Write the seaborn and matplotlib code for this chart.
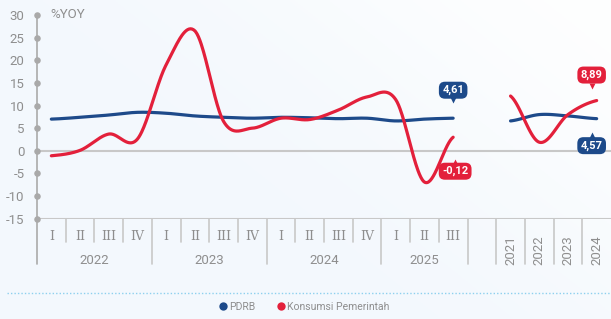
import numpy as np
import pandas as pd
import matplotlib
matplotlib.use("Agg")
import matplotlib.pyplot as plt
import seaborn as sns
from matplotlib.lines import Line2D
from matplotlib import transforms

# ---------------- data ----------------
quarter_labels = ["I", "II", "III", "IV", "I", "II", "III", "IV",
                  "I", "II", "III", "IV", "I", "II", "III"]
quarter_years = ["2022", "2023", "2024", "2025"]
annual_labels = ["2021", "2022", "2023", "2024"]

pdrb_q = [7.0, 7.4, 7.9, 8.5, 8.3, 7.7, 7.4, 7.2, 7.4, 7.3, 7.1, 7.2, 6.6, 7.0, 7.2]
kons_q = [-1.1, 0.1, 3.7, 2.6, 19.0, 26.5, 6.5, 5.0, 7.2, 6.9, 9.0, 11.9, 11.3, -6.9, 3.0]
pdrb_a = [6.6, 8.0, 7.7, 7.1]
kons_a = [12.1, 1.9, 8.0, 11.1]

label_pdrb_last = "4,61"
label_kons_last = "-0,12"
label_pdrb_year = "4,57"
label_kons_year = "8,89"

series_names = ["PDRB", "Konsumsi Pemerintah"]
BLUE = "#1d4a8a"
RED = "#e3203b"
GREY = "#8e8e8e"
LINEGREY = "#c8c8c8"

# ---------------- style ----------------
sns.set_theme(style="white")
plt.rcParams["font.family"] = ["Roboto", "DejaVu Sans"]
plt.rcParams["axes.unicode_minus"] = False

W, H = 611, 319
fig = plt.figure(figsize=(W / 100, H / 100), dpi=100)

# background gradient (light blue -> white towards top right)
bg = fig.add_axes([0, 0, 1, 1], zorder=-10)
gx, gy = np.meshgrid(np.linspace(0, W, 300), np.linspace(0, H, 160))
d = (gx - 1.25 * (H - gy) - 330) / 120.0
t = 1 / (1 + np.exp(-d))
c0 = np.array(matplotlib.colors.to_rgb("#f3f8fd"))
c1 = np.array(matplotlib.colors.to_rgb("#ffffff"))
img = c0[None, None, :] * (1 - t[..., None]) + c1[None, None, :] * t[..., None]
bg.imshow(img, extent=[0, 1, 0, 1], aspect="auto", origin="lower")
bg.axis("off")

top_px, bot_px, left_px = 15.0, 218.7, 37.0
ax = fig.add_axes([left_px / W, 1 - bot_px / H, (W - left_px) / W, (bot_px - top_px) / H])
ax.patch.set_alpha(0)

n_q = len(quarter_labels)
x_q = np.arange(n_q)
x_a = np.arange(len(annual_labels)) + n_q + 1
n_total = n_q + 1 + len(annual_labels)


def catmull(xs, ys, n=40):
    xs = np.asarray(xs, float)
    ys = np.asarray(ys, float)
    m = np.empty_like(ys)
    m[1:-1] = (ys[2:] - ys[:-2]) / 2
    m[0] = (ys[1] - ys[0]) / 2
    m[-1] = (ys[-1] - ys[-2]) / 2
    X, Y = [], []
    for i in range(len(xs) - 1):
        tt = np.linspace(0, 1, n, endpoint=(i == len(xs) - 2))
        h00 = 2 * tt**3 - 3 * tt**2 + 1
        h10 = tt**3 - 2 * tt**2 + tt
        h01 = -2 * tt**3 + 3 * tt**2
        h11 = tt**3 - tt**2
        X.append(xs[i] + tt * (xs[i + 1] - xs[i]))
        Y.append(h00 * ys[i] + h10 * m[i] + h01 * ys[i + 1] + h11 * m[i + 1])
    return np.concatenate(X), np.concatenate(Y)


for xs, ys, col in [(x_q, pdrb_q, BLUE), (x_a, pdrb_a, BLUE),
                    (x_q, kons_q, RED), (x_a, kons_a, RED)]:
    sx, sy = catmull(xs, ys)
    df = pd.DataFrame({"x": sx, "y": sy})
    sns.lineplot(data=df, x="x", y="y", ax=ax, color=col, lw=2.3,
                 sort=False, estimator=None, zorder=5)

ax.set_xlim(-0.5, n_total - 0.5)
ax.set_ylim(-15, 30)
yt = list(range(-15, 31, 5))
ax.set_yticks(yt)
ax.set_yticklabels([str(v) for v in yt])
ax.tick_params(axis="y", length=0, pad=9, labelcolor=GREY, labelsize=9.5)
ax.set_xticks([])
ax.set_xlabel("")
ax.set_ylabel("")
for s in ax.spines.values():
    s.set_visible(False)

# zero line and bottom axis line
ax.axhline(0, color=LINEGREY, lw=1.5, zorder=1)
ax.axhline(-15, color=LINEGREY, lw=1.5, zorder=1)

ax_h = bot_px - top_px
short_y = -(242 - bot_px) / ax_h
long_y = -(264 - bot_px) / ax_h
xtr = ax.get_xaxis_transform()

# y axis line + dots
ax.plot([-0.5, -0.5], [long_y, 1], transform=xtr, color="#aaaaaa", lw=1.2, clip_on=False, zorder=2)
ax.scatter([-0.5] * len(yt), yt, s=22, color="#a9a9a9", clip_on=False, zorder=3, linewidths=0)

# separators
year_edges = [-0.5 + 4 * k for k in range(len(quarter_years))] + [n_q - 0.5] + list(x_a - 0.5)
for b in np.arange(0.5, n_q - 0.5, 1.0):
    if b in year_edges:
        continue
    ax.plot([b, b], [short_y, 0], transform=xtr, color=LINEGREY, lw=1.2, clip_on=False)
for b in year_edges[1:]:
    ax.plot([b, b], [long_y, 0], transform=xtr, color=LINEGREY, lw=1.2, clip_on=False)

# category labels
q_lab_y = -(237 - bot_px) / ax_h
yr_lab_y = -(260 - bot_px) / ax_h
an_lab_y = -(250 - bot_px) / ax_h
for i, lab in enumerate(quarter_labels):
    ax.text(i, q_lab_y, lab, transform=xtr, ha="center", va="center",
            color=GREY, fontsize=9, family="DejaVu Serif")
for k, yr in enumerate(quarter_years):
    n_in = min(4, n_q - 4 * k)
    ax.text(4 * k + (n_in - 1) / 2, yr_lab_y, yr, transform=xtr, ha="center",
            va="center", color=GREY, fontsize=9.5)
for xa, lab in zip(x_a, annual_labels):
    ax.text(xa, an_lab_y, lab, transform=xtr, ha="center", va="center",
            color=GREY, fontsize=9.5, rotation=90)

fig.text(50 / W, 1 - 15 / H, "%YOY", ha="left", va="center", color=GREY, fontsize=9.5)


# value bubbles
def bubble(x, y, text, color, dx, dy_box, dy_tip, up):
    ax.annotate(text, (x, y), xytext=(dx, dy_box), textcoords="offset pixels",
                ha="center", va="center", color="white", fontsize=8, fontweight="bold",
                bbox=dict(boxstyle="round,pad=0.3,rounding_size=0.55", fc=color, ec="none"),
                zorder=10, annotation_clip=False)
    tr = transforms.offset_copy(ax.transData, fig=fig, x=dx, y=dy_tip, units="dots")
    ax.plot([x], [y], marker="^" if up else "v", ms=5, color=color, mec="none",
            transform=tr, clip_on=False, zorder=10)


bubble(x_q[-1], pdrb_q[-1], label_pdrb_last, BLUE, 0, 28, 18, False)
bubble(x_q[-1], kons_q[-1], label_kons_last, RED, 2, -34, -24.5, True)
bubble(x_a[-1], kons_a[-1], label_kons_year, RED, -5, 25.5, 15, False)
bubble(x_a[-1], pdrb_a[-1], label_pdrb_year, BLUE, -5, -27, -16.5, True)

# dotted separator
fig.add_artist(Line2D([7 / W, 1], [1 - 292.7 / H] * 2, transform=fig.transFigure,
                      color="#8dd0ee", lw=1.0, linestyle=(0, (1, 1.5))))

# legend
handles = [Line2D([0], [0], marker="o", color="none", markerfacecolor=c, markeredgecolor="none",
                  markersize=6) for c in (BLUE, RED)]
fig.legend(handles, series_names, loc="center", bbox_to_anchor=(304 / W, 1 - 307 / H),
           ncol=2, frameon=False, fontsize=7.5, handletextpad=0.25, columnspacing=2.0,
           handlelength=0.8, labelcolor=GREY)

fig.savefig("out.png", dpi=100)
